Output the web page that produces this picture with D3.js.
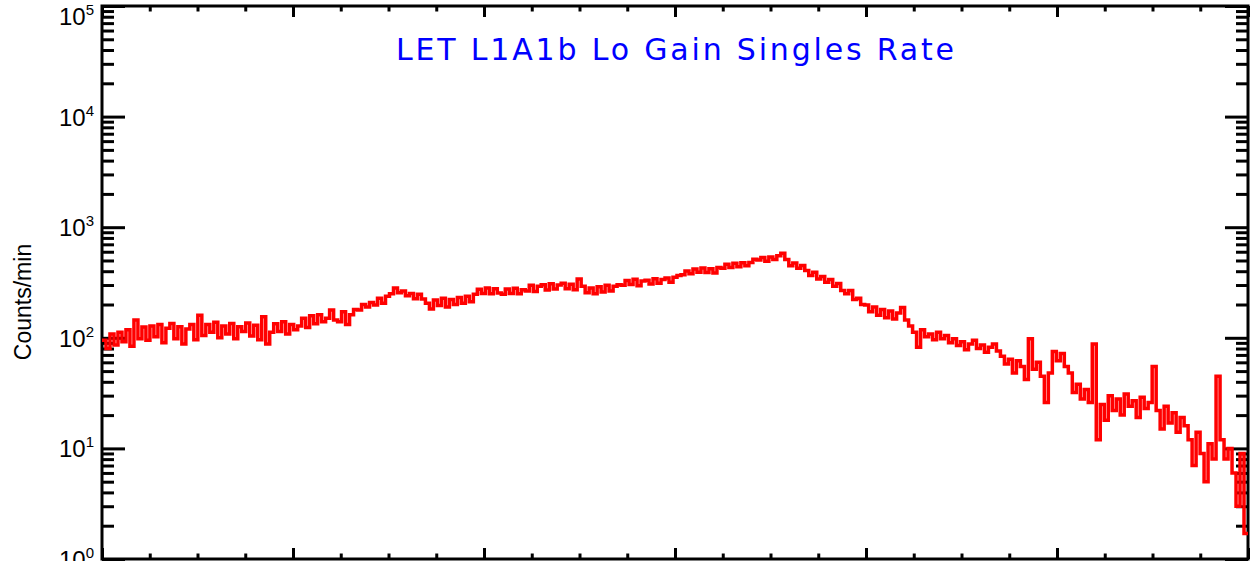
<!DOCTYPE html>
<html>
<head>
<meta charset="utf-8">
<script src="https://cdn.jsdelivr.net/npm/d3@7"></script>
<style>
  html, body { margin: 0; padding: 0; background: #fff; overflow: hidden; }
  svg { display: block; }
</style>
</head>
<body>
<svg id="chart" width="1252" height="561"></svg>
<script>
/* ── DATA ───────────────────────────────────────────────────────────────────── */
const TITLE   = 'LET L1A1b Lo Gain Singles Rate';
const Y_TITLE = 'Counts/min';

const X_DOMAIN     = [0, 6];
const X_MAJOR      = [0, 1, 2, 3, 4, 5, 6];
const X_MINOR_STEP = 0.25;

const Y_MAJOR     = [1, 10, 100, 1000, 10000, 100000];
const Y_EXPONENTS = ['0', '1', '2', '3', '4', '5'];

// singles rate, counts/min, one value per time bin
const RATE = [
  95, 80, 108, 86, 112, 92, 118, 84, 145, 98, 125, 95, 128, 102, 132, 90, 122, 135, 98, 126, 88, 120, 132, 96, 160,
  105, 132, 112, 138, 100, 128, 108, 135, 98, 126, 114, 136, 104, 130, 96, 155, 88,
  112, 134, 114, 140, 108, 132, 118,
  128, 150, 124, 158, 134, 162, 140,
  150, 178, 145, 140, 172, 132, 162, 180,
  178, 200, 190, 208, 198, 228, 205, 238, 250,
  282, 255, 265, 240, 252, 226, 248, 224,
  205, 182, 220, 196, 228, 190, 222, 200, 232, 205, 238, 212,
  248, 275, 252, 282, 250, 278, 254, 248, 276, 252, 280, 250, 272,
  265, 298, 262, 292, 302, 270, 308, 276, 300, 312, 278, 305, 272, 340,
  292, 255, 282, 250, 290, 260, 298, 265, 292, 302,
  298, 330, 304, 338, 296, 326, 332, 306, 342, 312, 336, 348, 318, 352, 365,
  372, 402, 380, 418, 392, 428, 390, 422, 385, 432,
  425, 462, 432, 472, 440, 478, 448,
  480, 512, 505, 532, 492, 538, 510, 552, 580,
  510, 448, 475, 425, 450,
  405, 365, 392, 340, 358, 318, 336, 292, 310,
  268, 250, 268, 222, 228, 200,
  198, 172, 190, 160, 180, 152, 175, 148, 168, 188, 145,
  128, 112, 82, 118, 102, 108, 96, 112, 98, 105, 90,
  98, 85, 92, 78, 88, 95, 80, 86, 74, 82, 88, 76,
  68, 58, 64, 48, 62, 55, 42, 98,
  52, 60, 45, 26, 48,
  75, 62, 72, 55, 48,
  32, 38, 28, 34, 26, 88, 12,
  25, 18, 30, 22, 28, 20, 31, 24, 27, 19, 29, 23, 26, 55,
  22, 15, 24, 17, 21, 14, 19, 16,
  12, 7, 14, 9, 5, 11, 8, 45,
  12, 8, 10, 6, 3, 9, 1.7
];

/* ── LAYOUT ─────────────────────────────────────────────────────────────────── */
const M = { left: 102, right: 1248, top: 6, bottom: 559 };
const AXIS_W = 3;

const svg = d3.select('#chart');
const x = d3.scaleLinear().domain(X_DOMAIN).range([M.left, M.right]);
const y = d3.scaleLog().domain([Y_MAJOR[0], Y_MAJOR[Y_MAJOR.length - 1]]).range([M.bottom, M.top]);

/* ── AXES ───────────────────────────────────────────────────────────────────── */
function drawTicks(axisGen, transform, values, size) {
  const g = svg.append('g')
    .attr('transform', transform)
    .call(axisGen.tickValues(values).tickSize(size).tickFormat(''));
  g.select('.domain').remove();
  g.selectAll('line').attr('stroke', '#000').attr('stroke-width', AXIS_W);
}

const isMajorY = v => Y_MAJOR.some(m => Math.abs(Math.log10(v / m)) < 1e-6);
const yMinor = y.ticks().filter(v => !isMajorY(v));
const xMinor = d3.range(X_DOMAIN[0], X_DOMAIN[1] + 1e-9, X_MINOR_STEP)
  .filter(v => !X_MAJOR.includes(v));

// y: long ticks on left & right, pointing in
drawTicks(d3.axisRight(y), `translate(${M.left},0)`, Y_MAJOR, 23);
drawTicks(d3.axisRight(y), `translate(${M.left},0)`, yMinor, 12);
drawTicks(d3.axisLeft(y),  `translate(${M.right},0)`, Y_MAJOR, 23);
drawTicks(d3.axisLeft(y),  `translate(${M.right},0)`, yMinor, 12);

// x: short ticks on bottom & top, pointing in
drawTicks(d3.axisTop(x),    `translate(0,${M.bottom})`, X_MAJOR, 11);
drawTicks(d3.axisTop(x),    `translate(0,${M.bottom})`, xMinor, 5.5);
drawTicks(d3.axisBottom(x), `translate(0,${M.top})`, X_MAJOR, 11);
drawTicks(d3.axisBottom(x), `translate(0,${M.top})`, xMinor, 5.5);

svg.append('rect')
  .attr('x', M.left).attr('y', M.top)
  .attr('width', M.right - M.left).attr('height', M.bottom - M.top)
  .attr('fill', 'none').attr('stroke', '#000').attr('stroke-width', AXIS_W);

// y tick labels as 10^n
svg.append('g').selectAll('text')
  .data(Y_MAJOR)
  .join('text')
  .attr('x', 94)
  .attr('y', d => Math.max(y(d) + 9, 25))
  .attr('text-anchor', 'end')
  .attr('fill', '#000')
  .style('font-family', '"Liberation Sans", Arial, sans-serif')
  .style('font-size', '24px')
  .each(function (d, i) {
    const t = d3.select(this);
    t.append('tspan').text('10');
    t.append('tspan').attr('dy', -10).style('font-size', '15px').text(Y_EXPONENTS[i]);
  });

svg.append('text')
  .attr('transform', 'translate(31,302) rotate(-90)')
  .attr('text-anchor', 'middle')
  .style('font-family', '"Liberation Sans", Arial, sans-serif')
  .style('font-size', '23px')
  .text(Y_TITLE);

svg.append('text')
  .attr('x', (M.left + M.right) / 2)
  .attr('y', 60)
  .attr('text-anchor', 'middle')
  .attr('fill', '#0000ff')
  .attr('textLength', 558)
  .attr('lengthAdjust', 'spacing')
  .style('font-family', '"DejaVu Sans", sans-serif')
  .style('font-size', '30px')
  .text(TITLE);

/* ── SERIES ─────────────────────────────────────────────────────────────────── */
const binWidth = (X_DOMAIN[1] - X_DOMAIN[0]) / RATE.length;
const points = RATE.map((v, i) => [X_DOMAIN[0] + i * binWidth, v]);
points.push([X_DOMAIN[1], RATE[RATE.length - 1]]);

svg.append('clipPath').attr('id', 'plot-clip')
  .append('rect')
  .attr('x', M.left).attr('y', M.top)
  .attr('width', M.right - M.left).attr('height', M.bottom - M.top);

// histogram-style trace, like psym=10
const line = d3.line()
  .x(d => x(d[0]))
  .y(d => y(d[1]))
  .curve(d3.curveStepAfter);

svg.append('path')
  .datum(points)
  .attr('clip-path', 'url(#plot-clip)')
  .attr('fill', 'none')
  .attr('stroke', '#ff0000')
  .attr('stroke-width', 3.5)
  .attr('stroke-linejoin', 'miter')
  .attr('d', line);
</script>
</body>
</html>
